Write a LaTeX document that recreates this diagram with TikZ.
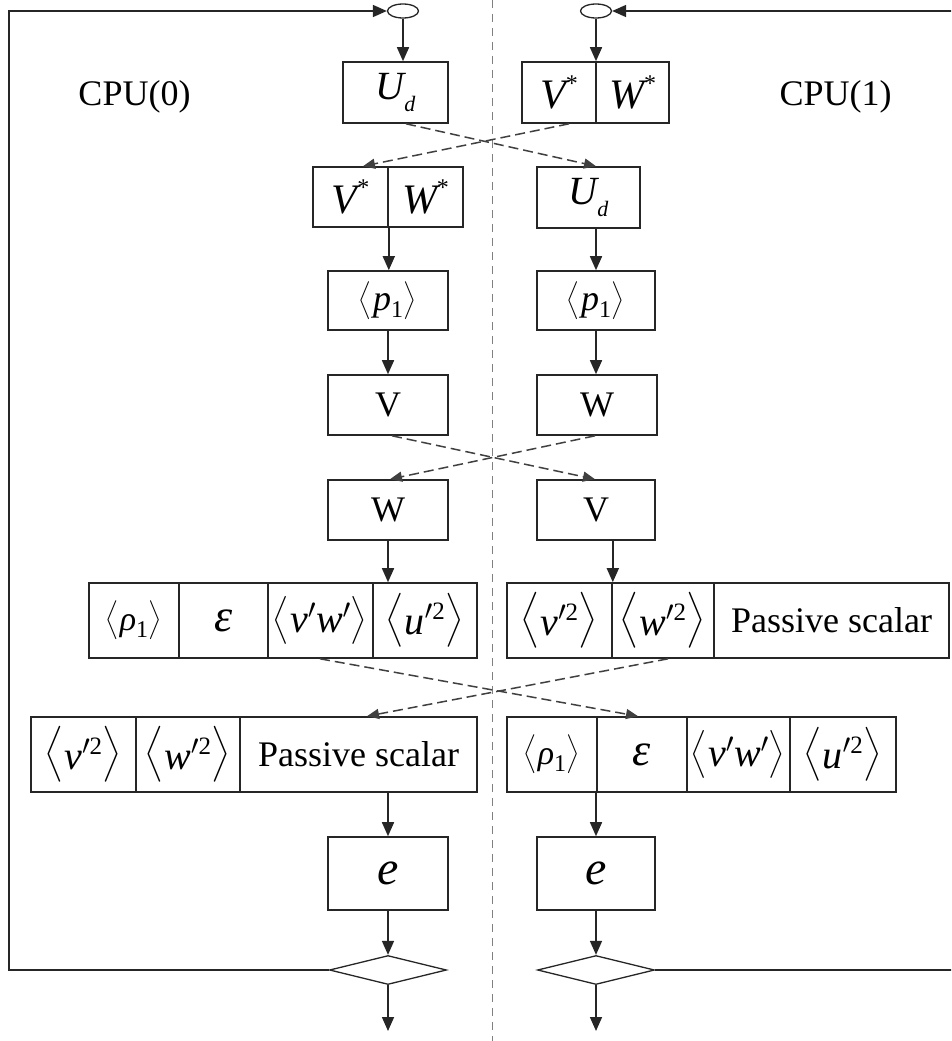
\RequirePackage{fix-cm}
\documentclass[tikz,border=0pt]{standalone}
\usepackage{fontspec}
\setmainfont{Liberation Serif}
\usetikzlibrary{arrows.meta,shapes.geometric}
% let the large delimiters scale with the font size
\DeclareFontShape{OMX}{cmex}{m}{n}{<-> cmex10}{}

% italic letter in the text font, and a small script in the text font
\newcommand\iv[1]{\mbox{\itshape #1}}
\newcommand\sm[1]{\mbox{\fontsize{25}{25}\selectfont #1}}
\newcommand\bigit[2]{\mbox{\fontsize{#1}{#1}\selectfont\itshape #2}}
\newcommand\sz[1]{\fontsize{#1}{#1}\selectfont}
% thin angle brackets #2 pt tall: the "Big" delimiter of a font of #2/1.8 pt
\newlength\brh
\newcommand\mkbr[2]{\setlength\brh{#2pt}\divide\brh by 18 \multiply\brh by 10
  \raisebox{0.12\dimexpr #2pt\relax}{\mbox{\fontsize{\brh}{\brh}\selectfont$\left#1\vcenter to 1.5\brh{}\right.$}}}
\newcommand\lang[1]{\mkbr{\langle}{#1}}
\newcommand\rang[1]{\mkbr{\rangle}{#1}}
% quantities
\newcommand\Ud{{\sz{40}\iv{U}\raisebox{-0.32em}{\sz{22}\itshape d}}}
\newcommand\Vs{{\sz{42}\iv{V}\raisebox{0.42em}{\sz{24}*}}}
\newcommand\Ws{{\sz{42}\iv{W}\raisebox{0.42em}{\sz{24}*}}}
\newcommand\pone{{\sz{36}\lang{38}\iv{p}\raisebox{-0.2em}{\sz{24}1}\rang{38}}}
\newcommand\rhoone{{\sz{34}\lang{39}\iv{ρ}\raisebox{-0.2em}{\sz{24}1}\rang{39}}}
\newcommand\vw{{\sz{40}\lang{48}$\iv{v}'\iv{w}'$\rang{48}}}
\newcommand\uu{{\sz{40}\lang{54}$\iv{u}^{\prime\sm{2}}$\rang{54}}}
\newcommand\vv{{\sz{40}\lang{56}$\iv{v}^{\prime\sm{2}}$\rang{56}}}
\newcommand\ww{{\sz{40}\lang{56}$\iv{w}^{\prime\sm{2}}$\rang{56}}}
\newcommand\eps{\bigit{46}{ε}}

\begin{document}
\begin{tikzpicture}[x=1pt,y=-1pt,
  font=\fontsize{36}{40}\selectfont,
  cell/.style={draw=black!85,line width=1.6pt,rectangle,inner sep=0pt,anchor=center},
  flow/.style={draw=black!85,line width=1.6pt,-{Triangle[length=14pt,width=12pt]}},
  swap/.style={draw=black!75,line width=1.5pt,dash pattern=on 10pt off 5pt,
               -{Triangle[length=12pt,width=10pt]}},
  loop/.style={draw=black!85,line width=1.6pt},
  oval/.style={draw=black!85,line width=1.3pt,ellipse,minimum width=31pt,minimum height=14pt,inner sep=0pt},
  test/.style={draw=black!85,line width=1.3pt,diamond,minimum width=117pt,minimum height=29pt,inner sep=0pt},
]
\useasboundingbox (0,0) rectangle (951,1041);
\clip (0,0) rectangle (951,1041);

% processor divide
\coordinate (divtop) at (492,0);
\coordinate (divbot) at (492,1041);
\draw[gray,line width=1pt,dash pattern=on 8pt off 6pt] (divtop) -- (divbot);

% labels
\node (cpu0) at (134.5,97) {CPU(0)};
\node (cpu1) at (835.5,97) {CPU(1)};

% entry points
\node[oval] (Lov) at (403,11) {};
\node[oval] (Rov) at (596,11) {};

% ---- CPU(0) column ----
\node[cell,minimum width=105pt,minimum height=61pt] (LUd) at (395.5,92.5) {\Ud};
\node[cell,minimum width=75pt,minimum height=60pt] (LVW1) at (350.5,197) {\Vs};
\node[cell,minimum width=75pt,minimum height=60pt] (LVW2) at (425.5,197) {\Ws};
\node[cell,minimum width=120pt,minimum height=59pt] (Lp) at (388,300.5) {\pone};
\node[cell,minimum width=120pt,minimum height=60pt] (LV) at (388,405) {V};
\node[cell,minimum width=120pt,minimum height=60pt] (LW) at (388,510) {W};

\node[cell,minimum width=90pt,minimum height=75pt] (Lr1a) at (134,620.5) {\rhoone};
\node[cell,minimum width=89pt,minimum height=75pt] (Lr1b) at (223.5,620.5) {\eps};
\node[cell,minimum width=105pt,minimum height=75pt] (Lr1c) at (320.5,620.5) {\vw};
\node[cell,minimum width=104pt,minimum height=75pt] (Lr1d) at (425,620.5) {\uu};

\node[cell,minimum width=105pt,minimum height=75pt] (Lr2a) at (83.5,754.5) {\vv};
\node[cell,minimum width=104pt,minimum height=75pt] (Lr2b) at (188,754.5) {\ww};
\node[cell,minimum width=237pt,minimum height=75pt] (Lr2c) at (358.5,754.5) {Passive scalar};

\node[cell,minimum width=120pt,minimum height=73pt] (Le) at (388,873.5) {\bigit{48}{e}};
\node[test] (Ldia) at (388,970) {};

% ---- CPU(1) column ----
\node[cell,minimum width=74pt,minimum height=61pt] (RVW1) at (559,92.5) {\Vs};
\node[cell,minimum width=73pt,minimum height=61pt] (RVW2) at (632.5,92.5) {\Ws};
\node[cell,minimum width=103pt,minimum height=61pt] (RUd) at (588.5,197.5) {\Ud};
\node[cell,minimum width=118pt,minimum height=59pt] (Rp) at (596,300.5) {\pone};
\node[cell,minimum width=120pt,minimum height=60pt] (RW) at (597,405) {W};
\node[cell,minimum width=118pt,minimum height=60pt] (RV) at (596,510) {V};

\node[cell,minimum width=105pt,minimum height=75pt] (Rr1a) at (559.5,620.5) {\vv};
\node[cell,minimum width=102pt,minimum height=75pt] (Rr1b) at (663,620.5) {\ww};
\node[cell,minimum width=235pt,minimum height=75pt] (Rr1c) at (831.5,620.5) {Passive scalar};

\node[cell,minimum width=90pt,minimum height=75pt] (Rr2a) at (552,754.5) {\rhoone};
\node[cell,minimum width=90pt,minimum height=75pt] (Rr2b) at (642,754.5) {\eps};
\node[cell,minimum width=103pt,minimum height=75pt] (Rr2c) at (738.5,754.5) {\vw};
\node[cell,minimum width=106pt,minimum height=75pt] (Rr2d) at (843,754.5) {\uu};

\node[cell,minimum width=118pt,minimum height=73pt] (Re) at (596,873.5) {\bigit{48}{e}};
\node[test] (Rdia) at (596,970) {};

% ---- solid flow ----
\draw[flow] (Lov.south) -- (Lov.south |- LUd.north);
\draw[flow] (LVW1.south east) -- (LVW1.south east |- Lp.north);
\draw[flow] (Lp.south) -- (LV.north);
\draw[flow] (LW.south) -- (LW.south |- Lr1d.north);
\draw[flow] (Le.north |- Lr2c.south) -- (Le.north);
\draw[flow] (Le.south) -- (Ldia.north);

\draw[flow] (Rov.south) -- (Rov.south |- RVW1.north);
\draw[flow] (RUd.south -| Rp.north) -- (Rp.north);
\draw[flow] (Rp.south) -- (Rp.south |- RW.north);
\draw[flow] (Rr1a.east |- RV.south) -- (Rr1a.north east);
\draw[flow] (Re.north |- Rr2a.south) -- (Re.north);
\draw[flow] (Re.south) -- (Rdia.north);

% exits
\coordinate (bot) at (0,1031);
\draw[flow] (Ldia.south) -- (Ldia.south |- bot);
\draw[flow] (Rdia.south) -- (Rdia.south |- bot);

% feedback loops
\coordinate (lc) at (9,0);
\coordinate (rc) at (958,0);
\draw[loop,-{Triangle[length=14pt,width=12pt]}] (Ldia.west) -- (Ldia.west -| lc) -- (lc |- Lov.west) -- (Lov.west);
\draw[loop,-{Triangle[length=14pt,width=12pt]}] (Rdia.east) -- (Rdia.east -| rc) -- (rc |- Rov.east) -- (Rov.east);

% ---- exchanges between the processors ----
\draw[swap] ([xshift=10.5pt]LUd.south) -- ([xshift=7.5pt]RUd.north);
\draw[swap] ([xshift=10pt]RVW1.south) -- ([xshift=12.5pt]LVW1.north);
\draw[swap] ([xshift=4pt]LV.south) -- ([xshift=-1pt]RV.north);
\draw[swap] ([xshift=-2pt]RW.south) -- ([xshift=2pt]LW.north);
\draw[swap] ([xshift=-0.5pt]Lr1c.south) -- ([xshift=-4pt]Rr2b.north);
\draw[swap] ([xshift=5pt]Rr1b.south) -- ([xshift=8.5pt]Lr2c.north);
\end{tikzpicture}
\end{document}
